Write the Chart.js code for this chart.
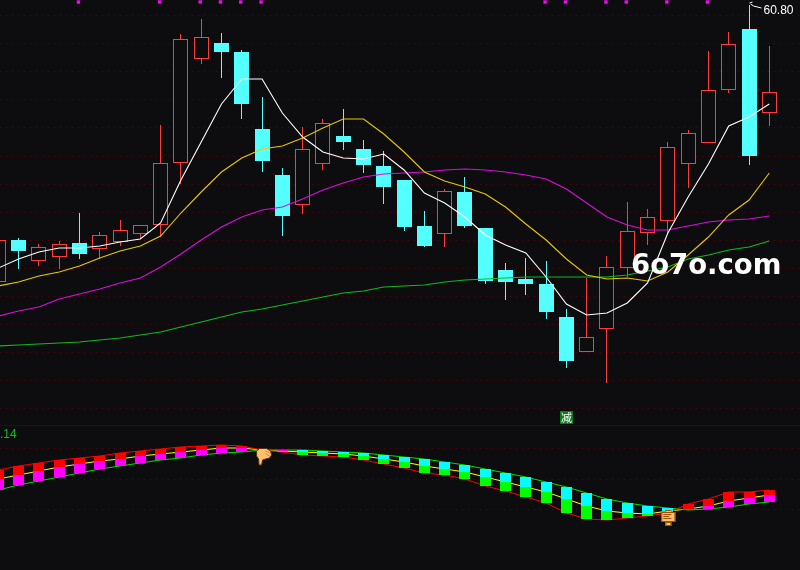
<!DOCTYPE html>
<html>
<head>
<meta charset="utf-8">
<style>
  html, body { margin: 0; padding: 0; background: #0d0d10; }
  canvas { display: block; }
</style>
<script src="https://cdn.jsdelivr.net/npm/chart.js@4/dist/chart.umd.min.js"></script>
</head>
<body>
<canvas id="c" width="800" height="570"></canvas>
<script>
// candles
const opens = [46.95,49.05,48.00,48.20,48.90,48.60,48.95,49.35,49.80,52.90,58.10,58.90,58.45,54.60,52.30,50.80,52.85,54.25,53.60,52.75,52.05,49.75,49.35,51.45,49.65,47.55,47.10,46.85,45.20,43.45,44.60,47.65,49.40,50.00,52.85,53.90,56.55,59.60,55.40];
const closes = [49.05,48.50,48.70,48.85,48.35,49.30,49.55,49.80,52.90,59.10,59.20,58.45,55.85,53.00,50.25,53.60,54.90,53.95,52.80,51.70,49.70,48.75,51.50,49.75,47.00,46.95,46.85,45.45,43.00,44.20,47.70,49.50,50.20,53.70,54.40,56.55,58.85,53.25,56.45];
const highs = [49.05,49.15,48.85,49.00,50.40,49.45,50.05,49.80,54.80,59.35,60.10,59.40,58.55,56.20,52.65,54.70,55.10,55.60,54.05,53.50,52.05,50.50,51.60,52.20,49.65,47.90,48.15,48.00,45.60,47.15,48.25,50.95,50.60,53.95,54.55,58.50,59.45,60.80,58.75];
const lows = [46.95,47.60,47.75,47.60,48.10,48.10,48.75,49.10,49.20,51.85,57.85,57.15,55.10,52.45,49.25,50.35,52.55,53.55,52.40,50.85,49.50,48.70,48.70,49.65,46.85,46.05,46.30,45.10,42.65,43.45,41.90,47.20,48.80,49.40,51.65,53.90,56.40,52.80,54.75];

// moving averages
const maWhite = [47.65,48.10,48.45,48.65,48.65,48.75,48.95,49.10,49.90,52.05,53.95,55.85,57.10,57.10,55.40,54.20,53.45,53.15,53.10,53.35,52.55,51.40,50.90,50.20,49.30,48.80,48.40,47.20,45.85,45.30,45.40,45.90,46.90,49.40,51.20,52.85,54.75,55.20,55.85];
const maYellow = [46.75,46.95,47.25,47.45,47.75,48.15,48.50,48.75,49.25,50.40,51.45,52.45,53.15,53.60,53.75,54.15,54.65,55.10,55.10,54.35,53.45,52.45,52.00,51.70,51.35,50.70,49.85,49.05,48.10,47.30,47.10,47.15,47.00,47.45,48.30,49.20,50.30,51.05,52.40];
const maMagenta = [45.25,45.50,45.70,46.10,46.35,46.60,46.90,47.15,47.70,48.35,49.05,49.70,50.20,50.55,50.70,51.10,51.55,51.90,52.20,52.35,52.40,52.45,52.55,52.60,52.55,52.45,52.30,52.10,51.60,50.90,50.20,49.80,49.55,49.55,49.75,49.95,50.05,50.10,50.25];
const maGreen = [43.75,43.80,43.85,43.90,43.95,44.05,44.15,44.30,44.45,44.70,44.95,45.20,45.45,45.60,45.80,46.00,46.20,46.40,46.50,46.70,46.75,46.80,46.95,47.05,47.10,47.15,47.20,47.20,47.20,47.20,47.20,47.30,47.50,47.70,48.10,48.30,48.55,48.70,49.00];

// lower panel indicator
const indRed = [.052,.060,.066,.072,.076,.080,.086,.090,.094,.098,.100,.102,.100,.092,.088,.082,.080,.078,.072,.064,.056,.046,.042,.034,.020,.010,-.002,-.014,-.034,-.046,-.048,-.044,-.040,-.034,-.016,-.006,.008,.008,.012];
const indGreen = [.012,.022,.030,.038,.046,.054,.060,.066,.072,.076,.082,.086,.088,.092,.092,.092,.090,.088,.086,.082,.078,.074,.068,.062,.054,.046,.038,.028,.018,.006,-.006,-.014,-.020,-.024,-.028,-.026,-.022,-.016,-.012];
const indYellow = [.034,.042,.050,.058,.064,.070,.074,.080,.084,.088,.092,.096,.096,.092,.090,.088,.086,.084,.080,.074,.068,.060,.054,.048,.038,.028,.018,.008,-.006,-.020,-.030,-.034,-.036,-.030,-.026,-.020,-.010,-.004,.002];

// candles flagged by the small magenta squares along the top
const flagged = [4,8,10,11,12,13,27,28,30,31,33,35];
const flagPrice = 60.93;

const priceTicks = [60.30,58.90,57.50,56.10,54.70,53.25,51.85,50.45,49.05,47.65,46.25,44.85,43.45,42.05,40.65];
const indTicks = [.096,.034,-.026];
const dividerTick = [39.80];

const BG = "#0d0d10", UP = "#ff3c3c", DOWN = "#54ffff";
const idx = opens.map((_, i) => i);
const isUp = (i) => closes[i] >= opens[i];
const rising = (i) => indRed[i] >= indGreen[i];

// bars land on whole pixels, the reference has no anti-aliased edges
const snapBars = {
  id: "snapBars",
  beforeDatasetsDraw(chart) {
    chart.getSortedVisibleDatasetMetas().forEach((m) => {
      if (m.type !== "bar") return;
      m.data.forEach((el) => {
        el.x = Math.floor(el.x) + 0.5;
        el.y = Math.round(el.y);
        el.base = Math.round(el.base);
      });
    });
  },
};

function hand(ctx, x, y) {
  // pointing hand, tip at x,y
  const pts = [[-4,-14],[-1,-16.5],[6,-16.5],[10,-14],[11,-10],[9,-7],[5,-6],[2,-5],[1,0],[-1.5,0],[-2,-6],[-4,-9]];
  ctx.beginPath();
  pts.forEach((p, i) => (i ? ctx.lineTo(x + p[0], y + p[1]) : ctx.moveTo(x + p[0], y + p[1])));
  ctx.closePath();
  ctx.fillStyle = "#ffc070"; ctx.fill();
  ctx.strokeStyle = "#5a3008"; ctx.lineWidth = 1; ctx.stroke();
  ctx.strokeStyle = "#d08a40";
  ctx.beginPath(); ctx.moveTo(x + 5, y - 14); ctx.lineTo(x + 9, y - 12); ctx.moveTo(x + 5, y - 11); ctx.lineTo(x + 9, y - 9); ctx.stroke();
}

function sign(ctx, x, y) {
  // little notice board, x,y is the centre of the top edge
  ctx.fillStyle = "#ffc070"; ctx.strokeStyle = "#a05000"; ctx.lineWidth = 1;
  ctx.fillRect(x - 3, y, 6, 2); ctx.strokeRect(x - 2.5, y + .5, 5, 2);
  ctx.fillRect(x - 7, y + 2, 14, 10); ctx.strokeRect(x - 6.5, y + 2.5, 13, 9);
  ctx.fillRect(x - 3, y + 12, 6, 4); ctx.strokeRect(x - 2.5, y + 12.5, 5, 3);
  ctx.fillStyle = "#a05000";
  ctx.fillRect(x - 5, y + 4, 8, 1); ctx.fillRect(x - 5, y + 6, 6, 1); ctx.fillRect(x - 5, y + 8, 8, 1);
}

const overlay = {
  id: "overlay",
  afterDatasetsDraw(chart) {
    const ctx = chart.ctx, sx = chart.scales.x, sy = chart.scales.y, si = chart.scales.yInd;
    ctx.save();
    ctx.textBaseline = "alphabetic"; ctx.textAlign = "left";

    // high label with its little leader
    const hx = Math.floor(sx.getPixelForValue(37)) + .5, hy = sy.getPixelForValue(60.80);
    ctx.strokeStyle = "#fff"; ctx.lineWidth = 1;
    ctx.beginPath(); ctx.moveTo(hx + 1, hy - 1); ctx.lineTo(hx + 4, hy + 1); ctx.lineTo(hx + 12, hy + 3); ctx.stroke();
    ctx.beginPath(); ctx.moveTo(hx, hy - 2); ctx.lineTo(hx + 3, hy - 3); ctx.stroke();
    ctx.fillStyle = "#fff"; ctx.font = "12px 'Liberation Sans'";
    ctx.fillText("60.80", hx + 14, hy + 9);

    // indicator value, cut off at the left edge
    ctx.fillStyle = "#10c020"; ctx.font = "12px 'Liberation Sans'";
    ctx.fillText(".14", 0, 438);

    // 减 badge above candle 28
    const bx = sx.getPixelForValue(28);
    ctx.fillStyle = "#0a7a1a"; ctx.fillRect(Math.round(bx) - 6, 411, 13, 13);
    ctx.fillStyle = "#fff"; ctx.font = "11px 'Noto Sans CJK SC'"; ctx.textAlign = "center";
    ctx.fillText("减", Math.round(bx) + .5, 422);
    ctx.textAlign = "left";

    hand(ctx, sx.getPixelForValue(13) - 1.5, si.getPixelForValue(.062));
    sign(ctx, sx.getPixelForValue(33) + .5, 510);

    // watermark
    ctx.fillStyle = "#fff"; ctx.font = "bold 27.5px 'DejaVu Sans'";
    ctx.fillText("6o7o.com", 631, 274);
    ctx.restore();
  },
};

const maLine = (label, data, color, order) => ({
  type: "line", label, data: idx.map((i) => ({ x: i, y: data[i] })), yAxisID: "y",
  borderColor: color, borderWidth: 1.1, pointRadius: 0, tension: 0, order,
});
const indLine = (label, data, color, order) => ({
  type: "line", label, data: idx.map((i) => ({ x: i, y: data[i] })), yAxisID: "yInd",
  borderColor: color, borderWidth: 1, pointRadius: 0, tension: 0, order,
});

const noLabels = { display: false };
new Chart(document.getElementById("c"), {
  type: "bar",
  data: {
    datasets: [
      { label: "flag", type: "line", showLine: false, data: flagged.map((i) => ({ x: i - 0.05, y: flagPrice })), yAxisID: "y",
        pointStyle: "rect", pointRadius: 2.4, pointBackgroundColor: "#ff00ff", pointBorderWidth: 0, order: 1 },
      maLine("white", maWhite, "#ffffff", 2),
      maLine("yellow", maYellow, "#e8c800", 3),
      maLine("magenta", maMagenta, "#d810d8", 4),
      maLine("green", maGreen, "#10b820", 5),
      // wicks under the bodies so hollow candles stay empty
      { label: "body", data: idx.map((i) => ({ x: i, y: [opens[i], closes[i]] })), yAxisID: "y", barThickness: 15, grouped: false,
        backgroundColor: (c) => (isUp(c.dataIndex) ? BG : DOWN),
        borderColor: (c) => (isUp(c.dataIndex) ? UP : DOWN),
        borderWidth: 1, borderSkipped: false, inflateAmount: 0, order: 6 },
      { label: "wick", data: idx.map((i) => ({ x: i, y: [lows[i], highs[i]] })), yAxisID: "y", barThickness: 1, grouped: false,
        backgroundColor: (c) => (isUp(c.dataIndex) ? UP : DOWN),
        borderWidth: 0, inflateAmount: 0, order: 7 },
      // lower panel, boxes sit on top of the lines
      { label: "indA", data: idx.map((i) => ({ x: i, y: [indYellow[i], indRed[i]] })), yAxisID: "yInd", barThickness: 11, grouped: false,
        backgroundColor: (c) => (rising(c.dataIndex) ? "#ff0000" : "#00ff00"),
        borderWidth: 0, inflateAmount: 0, order: 8 },
      { label: "indB", data: idx.map((i) => ({ x: i, y: [indYellow[i], indGreen[i]] })), yAxisID: "yInd", barThickness: 11, grouped: false,
        backgroundColor: (c) => (rising(c.dataIndex) || c.dataIndex === 14 ? "#ff00ff" : "#00ffff"),
        borderWidth: 0, inflateAmount: 0, order: 9 },
      indLine("indRed", indRed, "#ff0000", 10),
      indLine("indGreen", indGreen, "#00e000", 11),
      indLine("indYellow", indYellow, "#ffff00", 12),
    ],
  },
  options: {
    responsive: false,
    animation: false,
    devicePixelRatio: 1,
    layout: { padding: 0, autoPadding: false },
    plugins: { legend: { display: false }, tooltip: { enabled: false } },
    scales: {
      x: { type: "linear", min: 0.084, max: 39.513, offset: false, display: false },
      y: {
        position: "left", min: 32.55, max: 61.05, alignToPixels: true,
        afterBuildTicks: (a) => { a.ticks = priceTicks.map((v) => ({ value: v })); },
        ticks: noLabels, border: { display: false, dash: [1, 5] },
        grid: { color: "#500c0c", lineWidth: 1, drawTicks: false },
      },
      yInd: {
        position: "left", min: -.148, max: .992, alignToPixels: true,
        afterBuildTicks: (a) => { a.ticks = indTicks.map((v) => ({ value: v })); },
        ticks: noLabels, border: { display: false, dash: [1, 5] },
        grid: { color: "#500c0c", lineWidth: 1, drawTicks: false },
      },
      yDivider: {
        position: "left", min: 32.55, max: 61.05, alignToPixels: true,
        afterBuildTicks: (a) => { a.ticks = dividerTick.map((v) => ({ value: v })); },
        ticks: noLabels, border: { display: false },
        grid: { color: "#3c0808", lineWidth: 1, drawTicks: false },
      },
    },
  },
  plugins: [snapBars, overlay],
});
</script>
</body>
</html>
